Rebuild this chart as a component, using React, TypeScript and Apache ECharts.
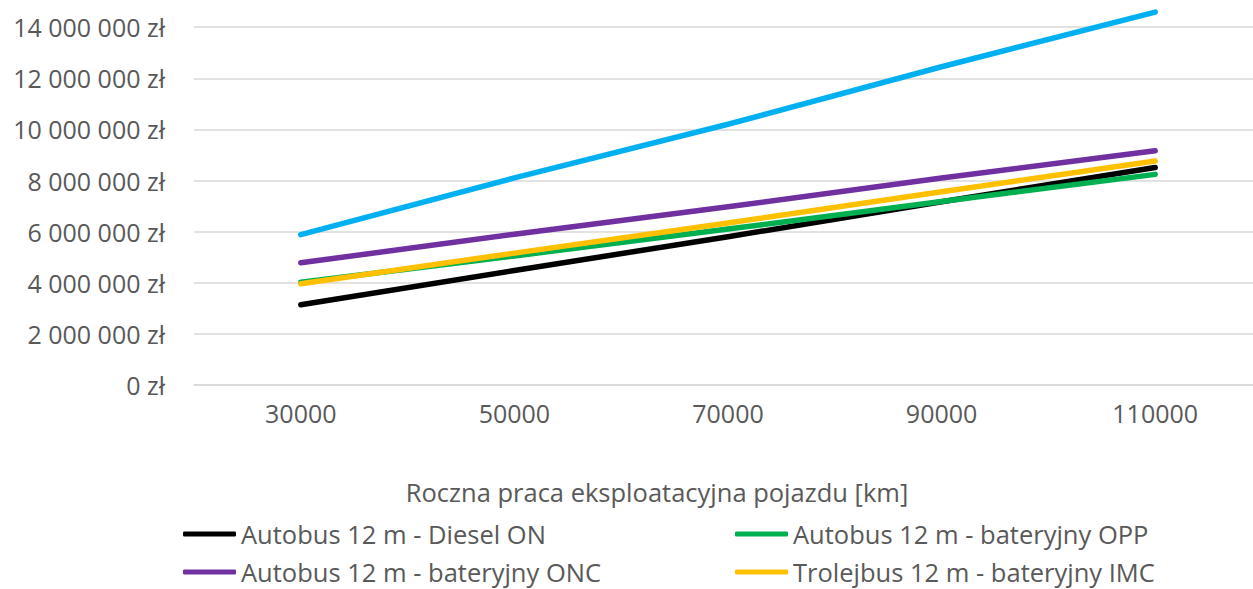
import React, { useEffect, useRef } from "react";
import * as echarts from "echarts";

const categories = ["30000", "50000", "70000", "90000", "110000"];
const seriesNames = [
  "Autobus 12 m - Diesel ON",
  "Autobus 12 m - bateryjny OPP",
  "Autobus 12 m - bateryjny ONC",
  "Trolejbus 12 m - bateryjny IMC",
  "Autobus 12 m - wodorowy",
];
const dieselON = [3140000, 4480000, 5800000, 7170000, 8510000];
const bateryjnyOPP = [4020000, 5050000, 6100000, 7180000, 8240000];
const bateryjnyONC = [4780000, 5900000, 6970000, 8100000, 9160000];
const trolejbusIMC = [3960000, 5160000, 6340000, 7560000, 8760000];
const wodorowy = [5880000, 8100000, 10200000, 12450000, 14590000];
const seriesValues = [dieselON, bateryjnyOPP, bateryjnyONC, trolejbusIMC, wodorowy];
const colors = ["#000000", "#00B050", "#7030A0", "#FFC000", "#00B0F0"];
const xAxisTitle = "Roczna praca eksploatacyjna pojazdu [km]";

const FONT = "'Open Sans', sans-serif";
const TEXT = "#595959";
// the chart canvas is shifted up / widened so the plot is cropped like the reference
const SHIFT_Y = 24;
const CHART_W = 1262;
const CHART_H = 589 + SHIFT_Y;

function fmt(v: number): string {
  if (v > 14000000) return "";
  return String(v).replace(/\B(?=(\d{3})+(?!\d))/g, " ") + " zł";
}

export default function App() {
  const ref = useRef<HTMLDivElement>(null);
  useEffect(() => {
    if (!ref.current) return;
    const chart = echarts.init(ref.current, null, { renderer: "svg" });
    const legendCommon = {
      orient: "vertical" as const,
      top: 520 + SHIFT_Y,
      height: 80,
      padding: 0,
      itemWidth: 53,
      itemHeight: 5,
      itemGap: 10,
      icon: "roundRect",
      textStyle: { color: TEXT, fontFamily: FONT, fontSize: 25.5, lineHeight: 28 },
    };
    chart.setOption({
      animation: false,
      backgroundColor: "#ffffff",
      grid: { left: 194, right: 0, top: 0, bottom: 589 - 385, containLabel: false },
      xAxis: {
        type: "category",
        data: categories,
        boundaryGap: true,
        axisLine: { show: true, lineStyle: { color: "#D9D9D9", width: 1.5 } },
        axisTick: { show: false },
        axisLabel: { color: TEXT, fontFamily: FONT, fontSize: 25, margin: 15 },
      },
      yAxis: {
        type: "value",
        min: 0,
        max: 16000000,
        interval: 2000000,
        axisLine: { show: false },
        axisTick: { show: false },
        splitLine: { lineStyle: { color: "#D9D9D9", width: 1.5 } },
        axisLabel: {
          color: TEXT,
          fontFamily: FONT,
          fontSize: 25,
          margin: 29,
          formatter: (v: number) => fmt(v),
        },
      },
      legend: [
        { ...legendCommon, left: 183, data: [seriesNames[0], seriesNames[2]] },
        { ...legendCommon, left: 735, data: [seriesNames[1], seriesNames[3]] },
      ],
      graphic: [
        {
          type: "text",
          x: 657,
          y: 492 + SHIFT_Y,
          style: {
            text: xAxisTitle,
            fill: TEXT,
            font: `25.5px ${FONT}`,
            align: "center",
            verticalAlign: "middle",
          },
        },
      ],
      series: seriesValues.map((vals, i) => ({
        name: seriesNames[i],
        type: "line",
        data: vals,
        symbol: "none",
        color: colors[i],
        itemStyle: { color: colors[i] },
        lineStyle: { color: colors[i], width: 5.5, cap: "round", join: "round" },
      })),
    });
    return () => chart.dispose();
  }, []);
  return (
    <div
      style={{
        position: "absolute",
        left: 0,
        top: 0,
        width: 1253,
        height: 589,
        overflow: "hidden",
        background: "#ffffff",
      }}
    >
      <div
        ref={ref}
        style={{ position: "absolute", left: 0, top: -SHIFT_Y, width: CHART_W, height: CHART_H }}
      />
    </div>
  );
}
